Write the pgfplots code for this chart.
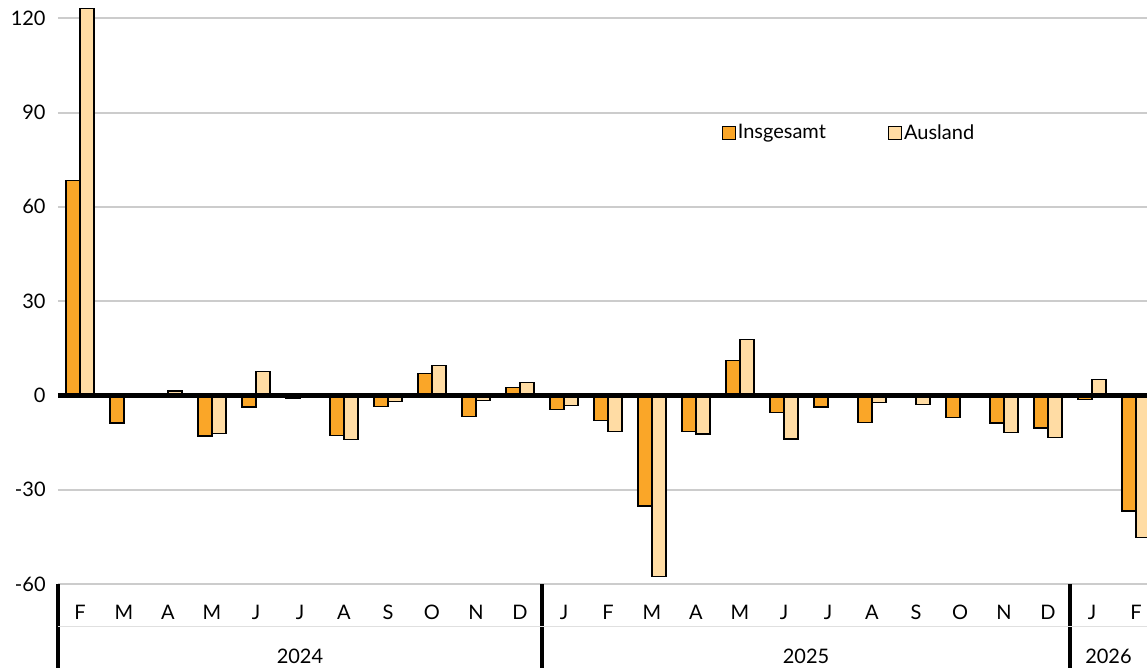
\documentclass[border=0pt]{standalone}
\usepackage{fontspec}
\setmainfont{Lato}
\usepackage{pgfplots}
\pgfplotsset{compat=1.18}
\usetikzlibrary{calc}
\definecolor{cIns}{HTML}{FAA628}
\definecolor{cAus}{HTML}{FFDCA4}
\definecolor{cGrid}{HTML}{CCCCCC}
\begin{document}
\fontsize{10}{12}\selectfont
\begin{tikzpicture}
\begin{axis}[
  name=ax,
  width=544.5pt, height=292pt, scale only axis,
  xmin=-0.5, xmax=24.25,
  ymin=-60, ymax=125.8,
  ybar=0pt, bar width=7pt,
  axis line style={draw=none},
  ytick={-60,-30,0,30,60,90,120},
  yticklabels={-60,-30,0,30,60,90,120},
  ymajorgrids, grid style={cGrid, line width=1pt},
  major tick length=0pt,
  yticklabel style={anchor=east, xshift=-6pt, inner sep=0pt},
  xtick={0,...,24},
  xticklabels={F,M,A,M,J,J,A,S,O,N,D,J,F,M,A,M,J,J,A,S,O,N,D,J,F},
  xticklabel style={anchor=center, yshift=-14pt, text height=1.5ex, text depth=0pt, inner sep=0pt},
  extra x ticks={-0.5,10.5,22.5},
  extra x tick labels={},
  extra x tick style={major tick length=42pt, tick align=outside, tick style={black, line width=2.2pt}, grid=none},
  legend columns=2,
  legend style={draw=none, fill=none, at={(0.6035,0.772)}, anchor=west,
    nodes={inner xsep=1pt},
    /tikz/every even column/.append style={column sep=30pt}},
  legend image code/.code={\draw[#1, line width=0.6pt] (0pt,-3.25pt) rectangle (6.5pt,3.25pt);},
  legend cell align=left,
  clip=true,
]
\addplot[draw=black, line width=0.6pt, fill=cIns] coordinates {
(0,68.3) (1,-8.8) (2,0.3) (3,-12.9) (4,-3.7) (5,-0.9) (6,-12.7) (7,-3.6) (8,6.9) (9,-6.6) (10,2.5)
(11,-4.6) (12,-8.1) (13,-35.2) (14,-11.5) (15,11.2) (16,-5.5) (17,-3.7) (18,-8.5) (19,-0.2) (20,-7.1) (21,-8.8) (22,-10.4)
(23,-1.2) (24,-36.8)};
\addlegendentry{Insgesamt}
\addplot[draw=black, line width=0.6pt, fill=cAus] coordinates {
(0,123.0) (1,0.5) (2,1.4) (3,-12.2) (4,7.5) (5,-0.7) (6,-14.1) (7,-2.0) (8,9.4) (9,-1.7) (10,4.0)
(11,-3.2) (12,-11.6) (13,-57.7) (14,-12.3) (15,17.7) (16,-13.9) (17,0.5) (18,-2.3) (19,-3.0) (20,0.3) (21,-11.7) (22,-13.3)
(23,5.1) (24,-45.1)};
\addlegendentry{Ausland}
\draw[black, line width=2.3pt] (axis cs:-0.5,0) -- (axis cs:24.25,0);
\end{axis}
\draw[black!12, line width=0.5pt] ([yshift=-21.5pt]ax.south west) -- ([yshift=-21.5pt]ax.south east);
\node[anchor=center] at ($(ax.south west)!0.2222!(ax.south east)+(0,-36pt)$) {2024};
\node[anchor=center] at ($(ax.south west)!0.6869!(ax.south east)+(0,-36pt)$) {2025};
\node[anchor=center] at ($(ax.south west)!0.9646!(ax.south east)+(0,-36pt)$) {2026};
\pgfresetboundingbox
\useasboundingbox ([xshift=-29pt,yshift=-42pt]ax.south west) rectangle (ax.north east);
\end{tikzpicture}
\end{document}
